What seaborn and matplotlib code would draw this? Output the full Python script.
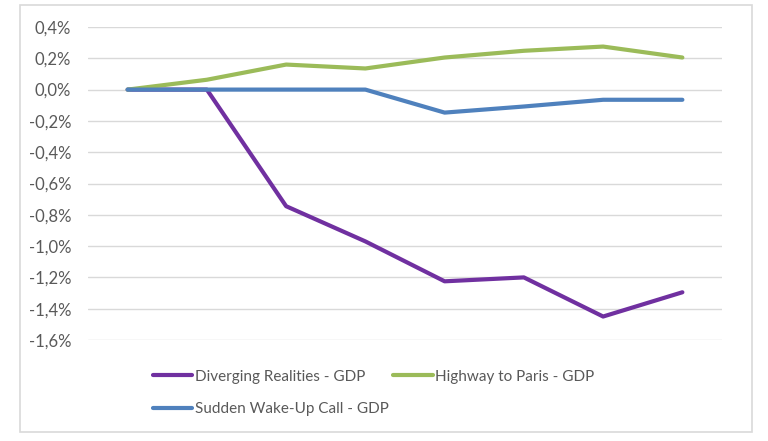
import pandas as pd
import matplotlib
matplotlib.use("Agg")
import matplotlib.pyplot as plt
import seaborn as sns
from matplotlib.patches import Rectangle
from matplotlib.ticker import FuncFormatter

# Values (GDP deviation, %)
periods = [0, 1, 2, 3, 4, 5, 6, 7]
diverging = [0.0, 0.0, -0.745, -0.97, -1.225, -1.20, -1.45, -1.295]
highway = [0.0, 0.063, 0.16, 0.135, 0.205, 0.248, 0.275, 0.205]
sudden = [0.0, 0.0, 0.0, 0.0, -0.147, -0.108, -0.065, -0.065]

series_names = ["Diverging Realities - GDP", "Highway to Paris - GDP", "Sudden Wake-Up Call - GDP"]
colors = ["#7030A0", "#9BBB59", "#4F81BD"]

df = pd.concat([
    pd.DataFrame({"period": periods, "value": vals, "scenario": name})
    for name, vals in zip(series_names, [diverging, highway, sudden])
])

sns.set_theme(style="white")
plt.rcParams["font.family"] = ["Lato", "DejaVu Sans"]

fig = plt.figure(figsize=(7.68, 4.41), dpi=100)
ax = fig.add_axes([88 / 768, 1 - 340 / 441, (722 - 88) / 768, (340 - 27) / 441])

# outer chart border like the Excel chart area
fig.patches.append(Rectangle((20 / 768, 1 - 432 / 441), 732 / 768, 427 / 441,
                             transform=fig.transFigure, fill=False,
                             edgecolor="#D9D9D9", linewidth=1.2))

sns.lineplot(data=df, x="period", y="value", hue="scenario", palette=colors,
             linewidth=3, ax=ax, legend=False, zorder=3)

ax.set_xlim(-0.5, 7.5)
ax.set_ylim(-1.6, 0.4)
ax.set_yticks([0.4, 0.2, 0.0, -0.2, -0.4, -0.6, -0.8, -1.0, -1.2, -1.4, -1.6])
ax.yaxis.set_major_formatter(FuncFormatter(lambda v, p: f"{v:.1f}%".replace(".", ",")))
ax.set_xticks([])
ax.set_xlabel("")
ax.set_ylabel("")
ax.grid(axis="y", color="#D9D9D9", linewidth=1)
for s in ax.spines.values():
    s.set_visible(False)
ax.tick_params(axis="y", labelsize=12, labelcolor="#595959", length=0, pad=12)

# legend fills column-wise, so order gives rows: Diverging | Highway / Sudden
handles = {n: plt.Line2D([], [], color=c, linewidth=3) for n, c in zip(series_names, colors)}
order = [series_names[0], series_names[2], series_names[1]]
fig.legend([handles[n] for n in order], order, loc="upper left",
           bbox_to_anchor=(139 / 768, 1 - 356 / 441),
           ncol=2, frameon=False, fontsize=11, labelcolor="#595959",
           handlelength=2.6, handletextpad=0.15, columnspacing=0.3, labelspacing=1.2)

fig.savefig("out.png", dpi=100)
